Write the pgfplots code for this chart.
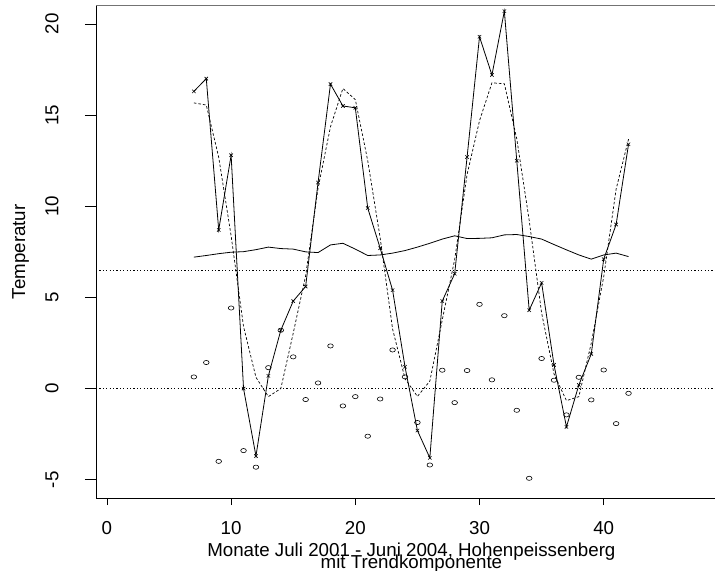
\documentclass[border=0pt]{standalone}
\usepackage{pgfplots}
\usepackage{pgfplotstable}
\pgfplotsset{compat=1.18}
\usepackage{fontspec}
\setmainfont{Liberation Sans}
\pgfplotstableread{
t data resid fit trend
7 16.3 0.64 15.67 7.21
8 17.0 1.43 15.55 7.30
9 8.7 -3.99 12.69 7.40
10 12.8 4.42 8.38 7.48
11 0.0 -3.40 3.40 7.51
12 -3.7 -4.31 0.62 7.62
13 0.7 1.15 -0.44 7.76
14 3.2 3.20 0.00 7.68
15 4.8 1.74 3.04 7.65
16 5.6 -0.60 6.19 7.50
17 11.3 0.31 10.99 7.46
18 16.7 2.34 14.36 7.88
19 15.5 -0.95 16.46 7.97
20 15.4 -0.44 15.85 7.65
21 9.9 -2.61 12.50 7.30
22 7.7 -0.57 8.27 7.33
23 5.4 2.12 3.27 7.43
24 1.2 0.64 0.55 7.57
25 -2.3 -1.86 -0.43 7.76
26 -3.8 -4.19 0.41 7.97
27 4.8 1.01 3.76 8.20
28 6.3 -0.77 7.08 8.38
29 12.7 0.99 11.74 8.23
30 19.3 4.62 14.69 8.24
31 17.2 0.48 16.77 8.27
32 20.7 4.00 16.72 8.43
33 12.5 -1.19 13.70 8.45
34 4.3 -4.92 9.23 8.34
35 5.8 1.65 4.15 8.20
36 1.3 0.46 0.80 7.90
37 -2.1 -1.44 -0.66 7.61
38 0.2 0.62 -0.44 7.33
39 1.9 -0.62 2.50 7.10
40 7.1 1.02 6.13 7.33
41 9.0 -1.92 10.94 7.43
42 13.4 -0.26 13.68 7.24
}\hohen
\begin{document}
\begin{tikzpicture}
\begin{axis}[
  at={(96bp,73bp)}, anchor=south west,
  scale only axis, width=630.4bp, height=492.3bp,
  xmin=-0.88, xmax=49.88, ymin=-6, ymax=21,
  xtick={0,10,20,30,40}, xticklabels={0,10,20,30,40},
  ytick=\empty,
  xtick pos=bottom,
  tick align=outside, major tick length=7bp,
  tick style={black, line width=0.6bp},
  axis line style={line width=0.8bp},
  ticklabel style={font=\fontsize{18.8}{22}\selectfont},
  xticklabel style={anchor=north, inner sep=0pt},
  xticklabel shift=16.3bp,
  clip=false,
]
\addplot[black, line width=0.6bp, dash pattern=on 1.2bp off 2.2bp] coordinates {(-0.88,0) (49.88,0)};
\addplot[black, line width=0.6bp, dash pattern=on 1.2bp off 2.2bp] coordinates {(-0.88,6.5) (49.88,6.5)};
\addplot[black, line width=0.7bp, dash pattern=on 2.6bp off 2bp] table[x=t,y=fit]{\hohen};
\addplot[black, line width=0.8bp] table[x=t,y=trend]{\hohen};
\addplot[black, line width=0.8bp, mark=x, mark size=2.4bp, mark options={solid, line width=0.6bp}] table[x=t,y=data]{\hohen};
\addplot[black, only marks, mark=o, mark size=2.1bp, mark options={xscale=1.35, line width=0.6bp}] table[x=t,y=resid]{\hohen};
\draw[black!55, line width=1.4bp] (rel axis cs:0,1) -- (rel axis cs:1,1);
\end{axis}
\begin{axis}[
  at={(96bp,73bp)}, anchor=south west,
  scale only axis, width=630.4bp, height=492.3bp,
  xmin=-0.88, xmax=49.88, ymin=-6, ymax=21,
  xtick=\empty,
  ytick={-5,0,5,10,15,20}, yticklabels={-5,0,5,10,15,20},
  ytick pos=left,
  axis line style={draw=none},
  tick align=outside, major tick length=11bp,
  tick style={black, line width=0.6bp},
  ticklabel style={font=\fontsize{18.8}{22}\selectfont},
  yticklabel style={rotate=90, anchor=south, inner sep=0pt},
  yticklabel shift=26.3bp,
]
\end{axis}
\node[rotate=90, font=\fontsize{18.8}{22}\selectfont] at (20.7bp,319.2bp) {Temperatur};
\node[anchor=base, font=\fontsize{18.8}{22}\selectfont] at (411.4bp,15bp) {Monate Juli 2001 - Juni 2004, Hohenpeissenberg};
\node[anchor=base, font=\fontsize{18.8}{22}\selectfont] at (411.4bp,3bp) {mit Trendkomponente};
\pgfresetboundingbox
\useasboundingbox (0,0) rectangle (715bp,571bp);
\end{tikzpicture}
\end{document}
